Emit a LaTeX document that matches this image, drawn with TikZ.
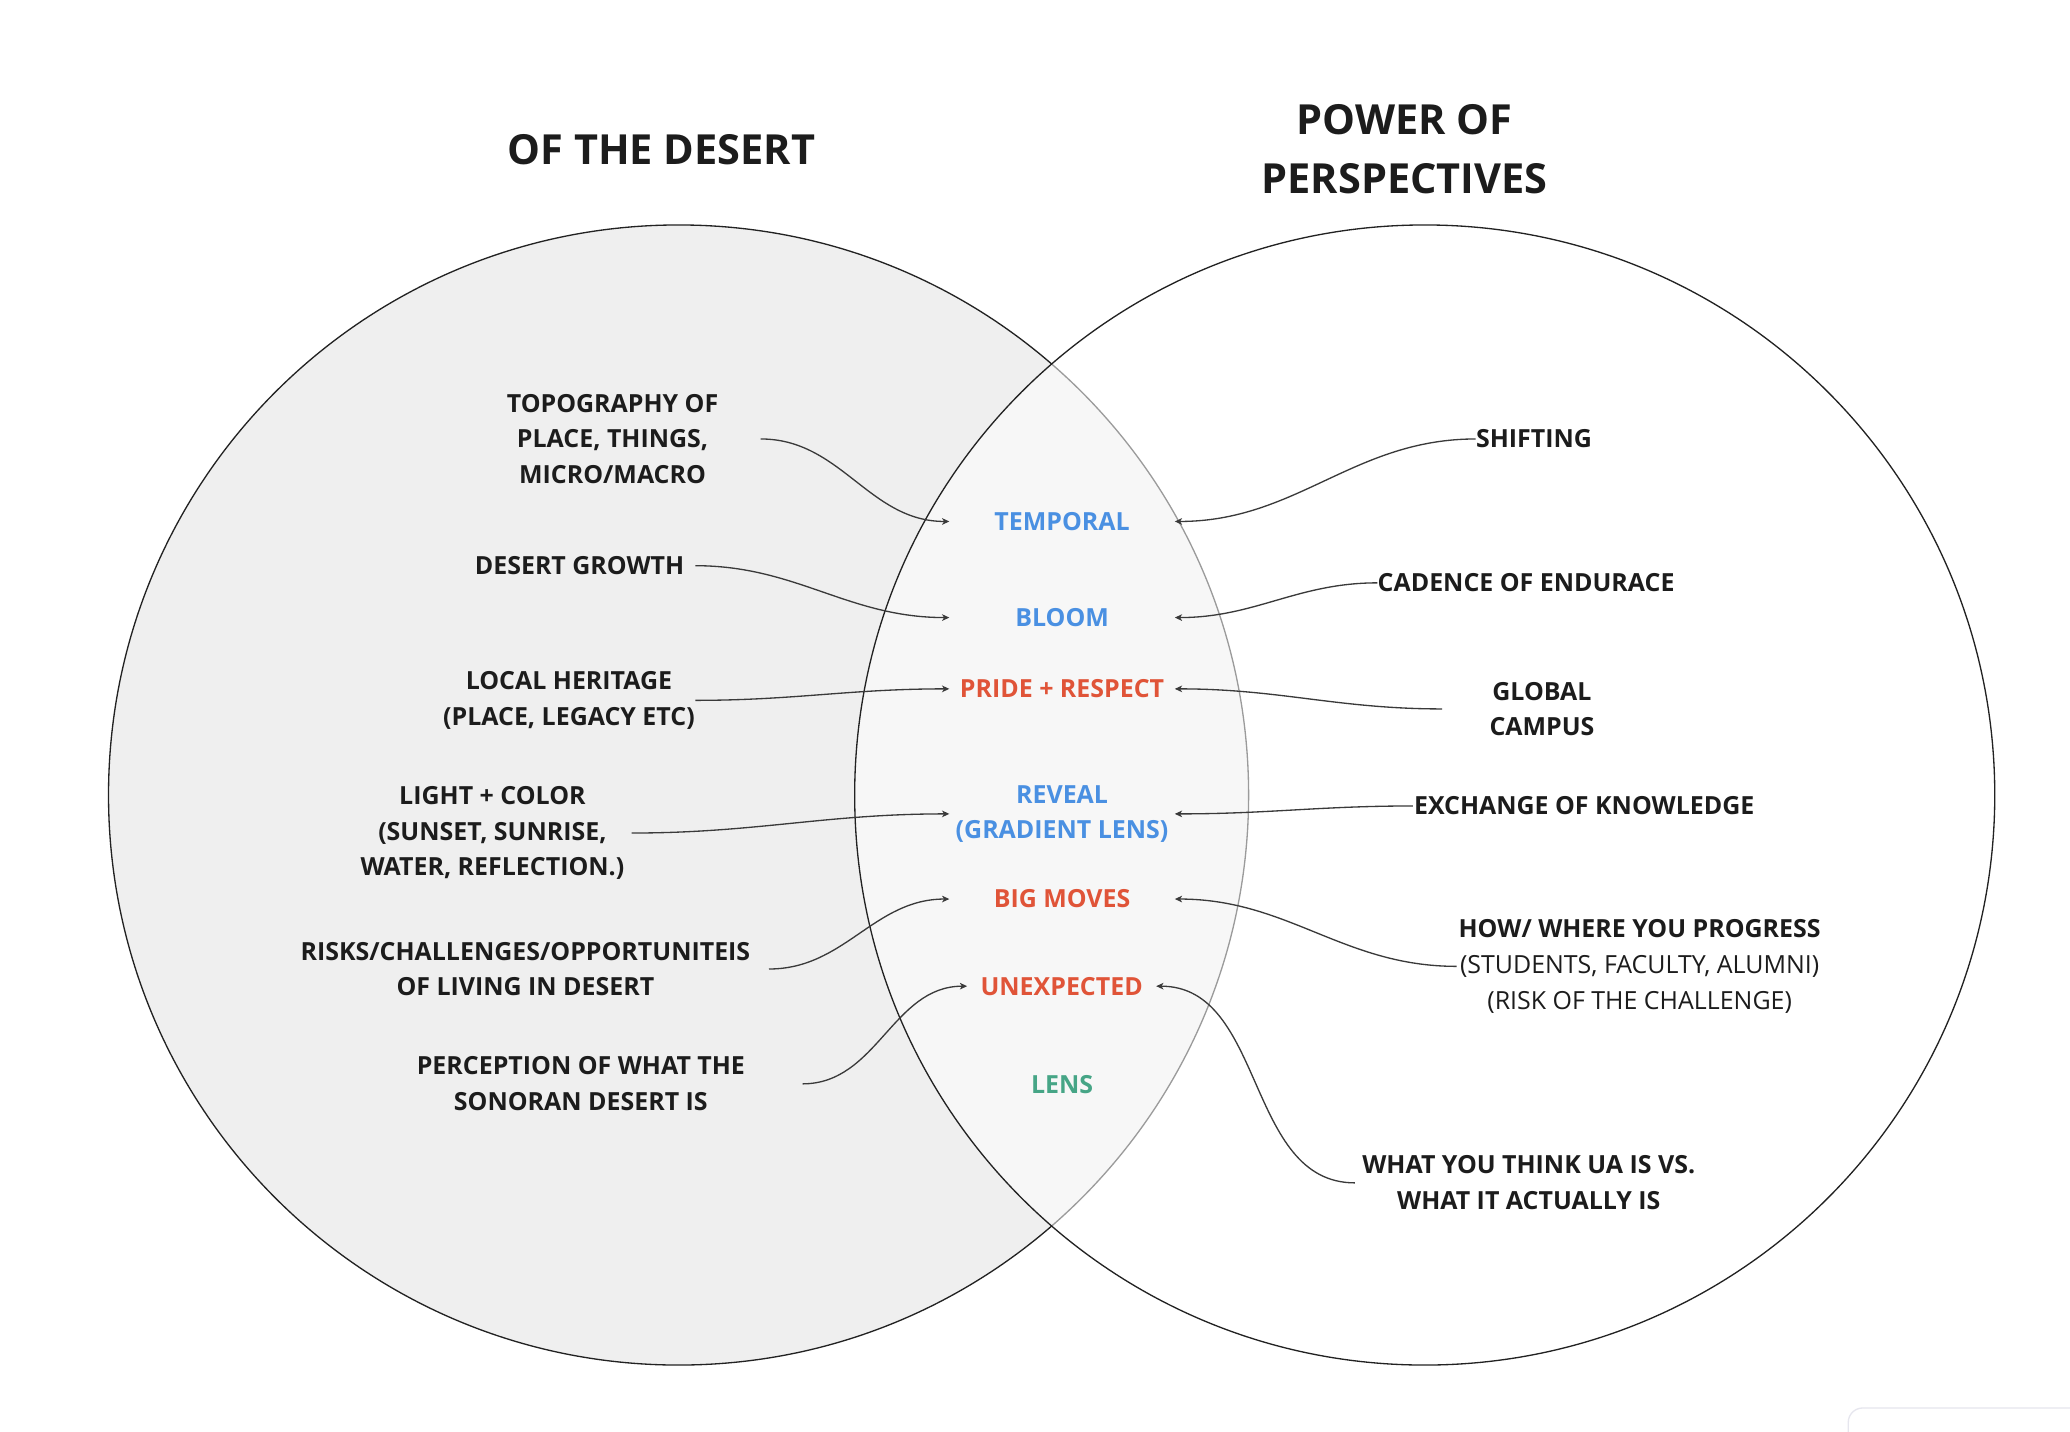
\documentclass[tikz,border=0pt]{standalone}
\usepackage{fontspec}
\setmainfont{Open Sans}
\usetikzlibrary{arrows.meta}
\definecolor{cblue}{HTML}{4A90E2}
\definecolor{cred}{HTML}{E05438}
\definecolor{cgreen}{HTML}{46A586}
\definecolor{ink}{HTML}{1C1C1C}
\definecolor{ink2}{HTML}{222222}
\definecolor{linec}{HTML}{3A3A3A}
\definecolor{leftfill}{HTML}{EFEFEF}
\definecolor{faint}{HTML}{E6E6EE}
\begin{document}
\begin{tikzpicture}[x=1pt,y=-1pt,
  lbl/.style={font=\fontsize{18.9}{27}\selectfont\bfseries, text=ink, align=center, inner sep=0pt},
  item/.style={lbl, minimum width=170.4pt},
  conn/.style={draw=linec, line width=1pt, -{Stealth[length=5.5pt,width=5pt,inset=1.5pt]}},
  ttl/.style={font=\fontsize{31.4}{45}\selectfont\bfseries, text=ink, align=center, inner sep=0pt}]
\useasboundingbox (0,0) rectangle (1568,1084.7);
\fill[white] (0,0) rectangle (1568,1084.7);
% circles
\draw[fill=leftfill, draw=ink2, line width=1pt] (514,602.2) circle[radius=431.8pt];
\fill[white, fill opacity=0.55] (1079.2,602.2) circle[radius=431.8pt];
\draw[draw=ink2, line width=1pt] (1079.2,602.2) circle[radius=431.8pt];
% faint corner
\draw[draw=faint, line width=1pt, rounded corners=11pt] (1400,1110) -- (1400,1066.5) -- (1590,1066.5);
% titles
\node[ttl] (tleft) at (501,113.5) {OF THE DESERT};
\node[ttl] (tright) at (1064,113) {POWER OF\\PERSPECTIVES};
% lens items
\node[item, text=cblue] (temporal) at (804.5,395) {TEMPORAL};
\node[item, text=cblue] (bloom) at (804.5,467.8) {BLOOM};
\node[item, text=cred] (pride) at (804.5,521.8) {PRIDE + RESPECT};
\node[item, text=cblue] (reveal) at (804.5,616.5) {REVEAL\\(GRADIENT LENS)};
\node[item, text=cred] (bigmoves) at (804.5,681) {BIG MOVES};
\node[item, text=cred, minimum width=142.8pt] (unexp) at (804.2,747) {UNEXPECTED};
\node[item, text=cgreen] (lens) at (804.5,821.5) {LENS};
% left labels
\node[lbl, minimum width=224pt] (topo) at (464,332.5) {TOPOGRAPHY OF\\PLACE, THINGS,\\MICRO/MACRO};
\node[lbl, minimum width=175pt] (growth) at (439,428.5) {DESERT GROWTH};
\node[lbl, minimum width=191pt] (heritage) at (431,530.5) {LOCAL HERITAGE\\(PLACE, LEGACY ETC)};
\node[lbl, minimum width=210.4pt] (light) at (373,631) {LIGHT + COLOR\\(SUNSET, SUNRISE,\\WATER, REFLECTION.)};
\node[lbl, minimum width=368.6pt] (risks) at (398,734) {RISKS/CHALLENGES/OPPORTUNITEIS\\OF LIVING IN DESERT};
\node[lbl, minimum width=335.4pt] (percep) at (440,821) {PERCEPTION OF WHAT THE\\SONORAN DESERT IS};
% right labels
\node[lbl, minimum width=88pt] (shift) at (1162,332.5) {SHIFTING};
\node[lbl, minimum width=225pt] (cadence) at (1156,441.5) {CADENCE OF ENDURACE};
\node[lbl, minimum width=151pt] (global) at (1168,537) {GLOBAL\\CAMPUS};
\node[lbl, minimum width=259pt] (exchange) at (1200,610.5) {EXCHANGE OF KNOWLEDGE};
\node[lbl, minimum width=277pt] (progress) at (1242,732) {HOW/ WHERE YOU PROGRESS\\{\mdseries (STUDENTS, FACULTY, ALUMNI)}\\{\mdseries (RISK OF THE CHALLENGE)}};
\node[lbl, minimum width=263pt] (uathink) at (1158,896) {WHAT YOU THINK UA IS VS.\\WHAT IT ACTUALLY IS};
% connectors left
\draw[conn] (topo.east) to[out=0,in=180] (temporal.west);
\draw[conn] (growth.east) to[out=0,in=180] (bloom.west);
\draw[conn] (heritage.east) to[out=0,in=180] (pride.west);
\draw[conn] (light.east) to[out=0,in=180] (reveal.west);
\draw[conn] (risks.east) to[out=0,in=180] (bigmoves.west);
\draw[conn] (percep.east) to[out=0,in=180] (unexp.west);
% connectors right
\draw[conn] (shift.west) to[out=180,in=0] (temporal.east);
\draw[conn] (cadence.west) to[out=180,in=0] (bloom.east);
\draw[conn] (global.west) to[out=180,in=0] (pride.east);
\draw[conn] (exchange.west) to[out=180,in=0] (reveal.east);
\draw[conn] (progress.west) to[out=180,in=0] (bigmoves.east);
\draw[conn] (uathink.west) to[out=180,in=0] (unexp.east);
\end{tikzpicture}
\end{document}
